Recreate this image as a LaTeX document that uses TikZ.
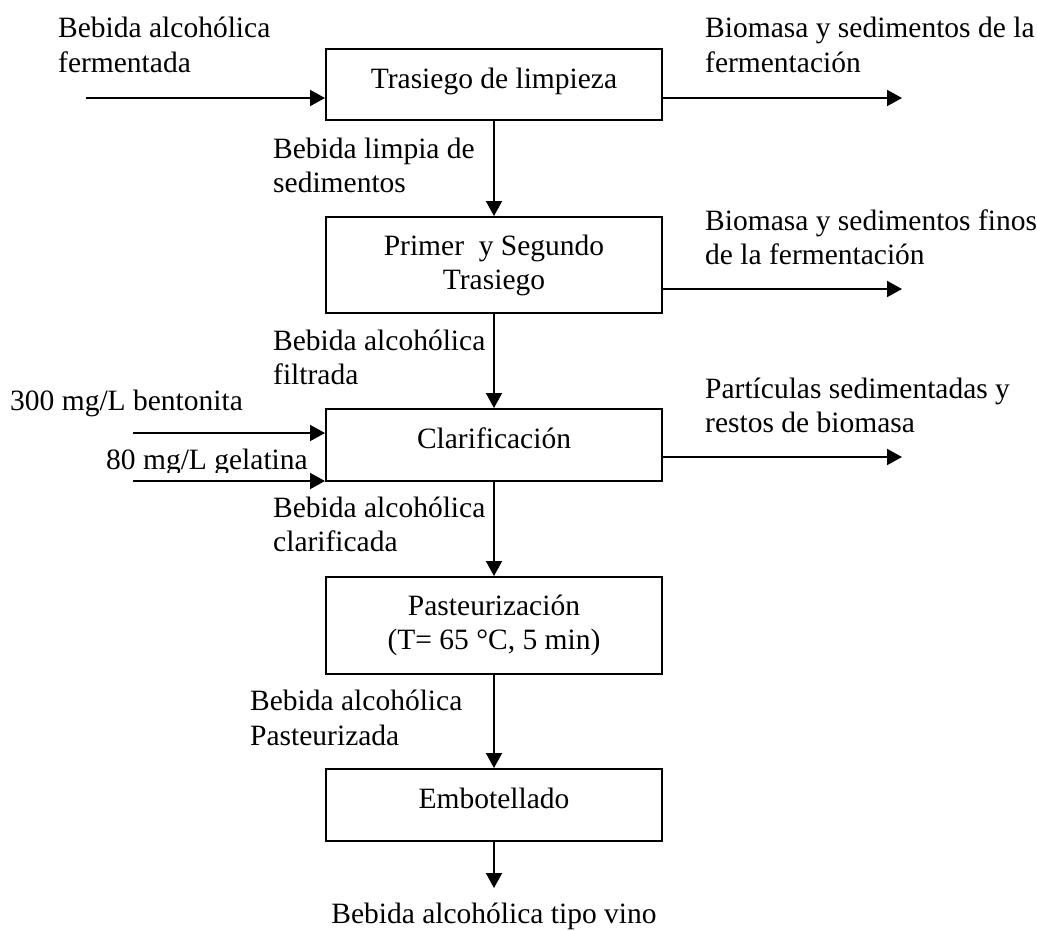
\documentclass[tikz,border=0pt]{standalone}
\usepackage{fontspec}
\setmainfont{Liberation Serif}
\usetikzlibrary{arrows.meta}
\begin{document}
\begin{tikzpicture}[x=1pt,y=-1pt,
  every node/.style={font=\fontsize{29.5}{34}\selectfont},
  stepbox/.style={draw, line width=2pt, minimum width=336pt, inner sep=0pt},
  oneline/.style={text height=20pt, text depth=13pt},
  lbl/.style={anchor=base west, inner sep=0pt},
  flow/.style={line width=2pt, -{Triangle[length=15pt,width=16pt]}}]
\useasboundingbox (0,0) rectangle (1037,930);

% process boxes
\node[stepbox, oneline, minimum height=71pt] (b1) at (494,84.5) {Trasiego de limpieza};
\node[stepbox, align=center, minimum height=96pt] (b2) at (494,265) {Primer\ \ y Segundo\\Trasiego};
\node[stepbox, oneline, minimum height=72pt] (b3) at (494,445) {Clarificación};
\node[stepbox, align=center, minimum height=97pt] (b4) at (494,625.5) {Pasteurización\\(T= 65 °C, 5 min)};
\node[stepbox, oneline, minimum height=72pt] (b5) at (494,805) {Embotellado};

% free ends
\coordinate (in1) at (86,98);
\coordinate (out1) at (902,98);
\coordinate (out2) at (902,289);
\coordinate (out3) at (902,457);
\coordinate (in3a) at (133,433);
\coordinate (in3b) at (133,481);
\coordinate (fin) at (494,888);

% connectors
\draw[flow] (in1) -- (in1 -| b1.west);
\draw[flow] (out1 -| b1.east) -- (out1);
\draw[flow] (out2 -| b2.east) -- (out2);
\draw[flow] (out3 -| b3.east) -- (out3);
\draw[flow] (in3a) -- (in3a -| b3.west);
\draw[flow] (in3b) -- (in3b -| b3.west);
\draw[flow] (b1) -- (b2);
\draw[flow] (b2) -- (b3);
\draw[flow] (b3) -- (b4);
\draw[flow] (b4) -- (b5);
\draw[flow] (b5) -- (fin);

% labels
\node[lbl] (l1a) at (58,37) {Bebida alcohólica};
\node[lbl] (l1b) at (58,72) {fermentada};
\node[lbl] (r1a) at (705,37) {Biomasa y sedimentos de la};
\node[lbl] (r1b) at (705,72) {fermentación};
\node[lbl] (m1a) at (273,158) {Bebida limpia de};
\node[lbl] (m1b) at (273,192) {sedimentos};
\node[lbl] (r2a) at (705,230) {Biomasa y sedimentos finos};
\node[lbl] (r2b) at (705,264) {de la fermentación};
\node[lbl] (m2a) at (273,350) {Bebida alcohólica};
\node[lbl] (m2b) at (273,384) {filtrada};
\node[lbl] (bent) at (10,410) {300 mg/L bentonita};
\begin{scope}
\clip (0,0) rectangle (1037,472);
\node[lbl] (gel) at (106,469) {80 mg/L gelatina};
\end{scope}
\node[lbl] (r3a) at (705,398) {Partículas sedimentadas y};
\node[lbl] (r3b) at (705,432) {restos de biomasa};
\node[lbl] (m3a) at (273,517) {Bebida alcohólica};
\node[lbl] (m3b) at (273,551) {clarificada};
\node[lbl] (m4a) at (250,710) {Bebida alcohólica};
\node[lbl] (m4b) at (250,745) {Pasteurizada};
\node[anchor=base, inner sep=0pt] (prod) at (494,923) {Bebida alcohólica tipo vino};
\end{tikzpicture}
\end{document}
